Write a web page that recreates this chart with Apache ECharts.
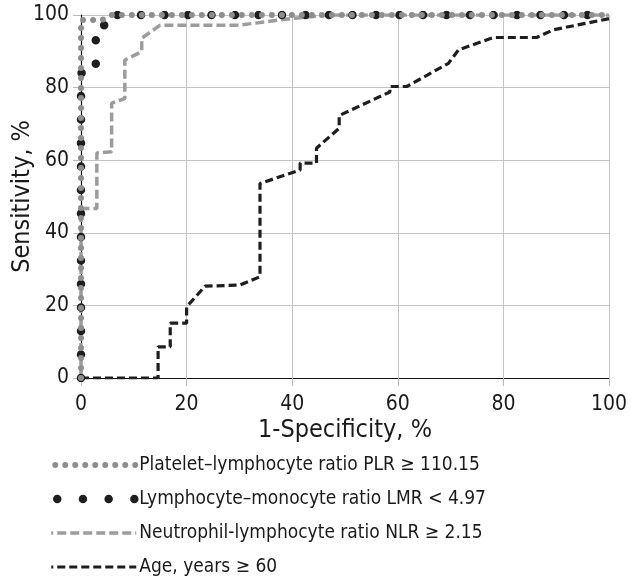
<!DOCTYPE html>
<html>
<head>
<meta charset="utf-8">
<script src="https://cdn.jsdelivr.net/npm/echarts@6/dist/echarts.min.js"></script>
<style>
html,body{margin:0;padding:0;background:#fff;}
#chart{width:636px;height:580px;}
</style>
</head>
<body>
<div id="chart"></div>
<script>
// 1-Specificity (x, %) and Sensitivity (y, %) for each ROC curve
var seriesNames = [
  'Platelet\u2013lymphocyte ratio PLR \u2265 110.15',
  'Lymphocyte\u2013monocyte ratio LMR < 4.97',
  'Neutrophil-lymphocyte ratio NLR \u2265 2.15',
  'Age, years \u2265 60'
];
var plrX = [0, 0, 2.0, 3.9, 5.8, 100];
var plrY = [0, 98.6, 98.6, 98.6, 100, 100];

var lmrX = [0, 0, 2.8, 2.8, 5.8, 5.8, 100];
var lmrY = [0, 84, 84, 97.2, 97.2, 100, 100];

var nlrX = [0, 0, 3.0, 3.0, 5.8, 5.8, 8.3, 8.3, 11.5, 11.5, 15.0, 30.0, 39.6, 47.0, 100];
var nlrY = [0, 46.7, 46.7, 62.0, 62.3, 75.7, 77.0, 87.6, 89.9, 93.6, 97.2, 97.2, 99.0, 100, 100];

var ageX = [0, 14.6, 14.6, 16.9, 16.9, 20.0, 20.0, 23.5, 30.1, 33.9, 33.9, 41.5, 41.5, 44.6, 44.6, 48.9, 48.9, 58.5, 58.5, 61.7, 69.6, 71.5, 78.1, 86.3, 89.4, 100];
var ageY = [0, 0, 8.6, 8.6, 15.1, 15.1, 19.6, 25.3, 25.6, 27.9, 53.6, 57.3, 59.2, 59.2, 63.3, 68.8, 72.3, 78.8, 80.3, 80.3, 86.7, 90.4, 93.8, 93.8, 95.9, 99];

var axisTicks = [0, 20, 40, 60, 80, 100];

function pairs(xs, ys) {
  return xs.map(function (x, i) { return [x, ys[i]]; });
}

var FONT = '"Liberation Sans Narrow", "DejaVu Sans Condensed", sans-serif';
var chart = echarts.init(document.getElementById('chart'), null, {renderer: 'canvas'});

var styles = {
  plr: {color: '#8e8e8e', width: 6, type: [0, 10], cap: 'round'},
  lmr: {color: '#1e1e1e', width: 8.5, type: [0, 23.5], cap: 'round'},
  nlr: {color: '#9c9c9c', width: 3.5, type: [9, 4]},
  age: {color: '#1e1e1e', width: 3.2, type: [8, 4]}
};

var axisCommon = {
  type: 'value',
  min: axisTicks[0],
  max: axisTicks[axisTicks.length - 1],
  interval: 20,
  axisLine: {show: true, onZero: false, lineStyle: {color: '#111', width: 1.2}},
  axisTick: {show: true, length: 8, lineStyle: {color: '#bbb', width: 1}},
  splitLine: {show: true, lineStyle: {color: '#c4c4c4', width: 1}},
  axisLabel: {color: '#1a1a1a', fontFamily: FONT, fontSize: 21, margin: 12},
  nameTextStyle: {color: '#1a1a1a', fontFamily: FONT, fontSize: 25},
  nameLocation: 'middle',
  nameMoveOverlap: false
};

var option = {
  animation: false,
  backgroundColor: '#fff',
  grid: {left: 81, right: 27, top: 15, bottom: 202, containLabel: false, outerBoundsMode: 'none'},
  xAxis: Object.assign({}, axisCommon, {name: '1-Specificity, %', nameGap: 40,
    axisLabel: Object.assign({}, axisCommon.axisLabel, {margin: 16})}),
  yAxis: Object.assign({}, axisCommon, {name: 'Sensitivity, %', nameGap: 46}),
  legend: {
    orient: 'vertical',
    left: 47,
    top: 454,
    padding: 0,
    itemWidth: 85,
    itemHeight: 14,
    itemGap: 12,
    itemStyle: {opacity: 0},
    data: [
      {name: seriesNames[0], lineStyle: {width: styles.plr.width, color: styles.plr.color, type: styles.plr.type, cap: 'round', dashOffset: -4}},
      {name: seriesNames[1], lineStyle: {width: styles.lmr.width, color: styles.lmr.color, type: [0, 25.7], cap: 'round', dashOffset: -6}},
      {name: seriesNames[2], lineStyle: {width: styles.nlr.width, color: styles.nlr.color, type: styles.nlr.type}},
      {name: seriesNames[3], lineStyle: {width: styles.age.width, color: styles.age.color, type: styles.age.type}}
    ],
    textStyle: {color: '#1a1a1a', fontFamily: FONT, fontSize: 19, lineHeight: 22, padding: [0, 0, 0, -2]}
  },
  series: [
    {
      name: seriesNames[3], type: 'line', symbol: 'none', data: pairs(ageX, ageY), z: 2,
      itemStyle: {color: styles.age.color}, lineStyle: styles.age
    },
    {
      name: seriesNames[2], type: 'line', symbol: 'none', data: pairs(nlrX, nlrY), z: 3,
      itemStyle: {color: styles.nlr.color}, lineStyle: styles.nlr
    },
    {
      name: seriesNames[1], type: 'line', symbol: 'none', data: pairs(lmrX, lmrY), z: 4,
      itemStyle: {color: styles.lmr.color}, lineStyle: styles.lmr
    },
    {
      name: seriesNames[0], type: 'line', symbol: 'none', data: pairs(plrX, plrY), z: 5,
      itemStyle: {color: styles.plr.color}, lineStyle: styles.plr
    }
  ]
};
chart.setOption(option);
</script>
</body>
</html>
